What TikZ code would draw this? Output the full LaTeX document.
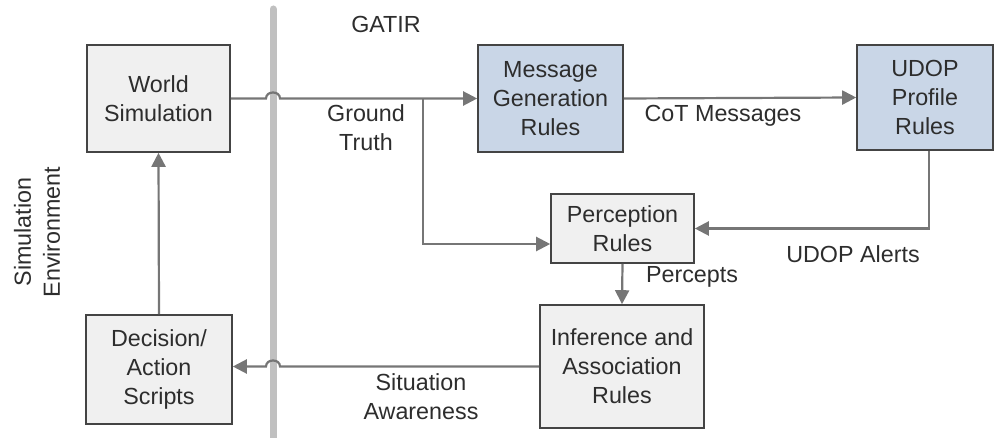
\documentclass[tikz,border=0pt]{standalone}
\usepackage{fontspec}
\setmainfont{Liberation Sans}
\usetikzlibrary{arrows.meta,positioning,calc}
\definecolor{boxgray}{RGB}{240,240,240}
\definecolor{boxblue}{RGB}{201,214,231}
\definecolor{edgegray}{RGB}{68,68,68}
\definecolor{linegray}{RGB}{118,118,118}
\definecolor{bargray}{RGB}{192,192,192}
\definecolor{txtgray}{RGB}{45,45,45}

\begin{document}
\begin{tikzpicture}[x=1pt, y=-1pt,
  font=\fontsize{23.3}{29}\selectfont, text=txtgray,
  block/.style={draw=edgegray, fill=boxgray, line width=1.6pt,
                align=center, inner sep=0pt},
  msgblock/.style={block, fill=boxblue},
  flow/.style={draw=linegray, line width=2.2pt,
               -{Triangle[length=14pt,width=14pt]}},
  lbl/.style={align=center}]
  \useasboundingbox (0,0) rectangle (994,438);

  % Boundary between simulation and GATIR
  \draw[bargray, line width=7pt, line cap=round] (273,9) -- (273,442);
  \node (gatir) at (386,24) {GATIR};
  \node[rotate=90, lbl] (simenv) at (37,232) {Simulation\\Environment};

  % Rule blocks
  \node[block, minimum width=143pt, minimum height=107pt] (world) at (158.5,98.5) {World\\Simulation};
  \node[msgblock, minimum width=145pt, minimum height=107pt] (msggen) at (550.5,98.5) {Message\\Generation\\Rules};
  \node[msgblock, minimum width=136pt, minimum height=105pt] (udop) at (925,97.5) {UDOP\\Profile\\Rules};
  \node[block, minimum width=143pt, minimum height=69pt] (percept) at (622.5,228.5) {Perception\\Rules};
  \node[block, minimum width=164pt, minimum height=123pt] (infer) at (622,366.5) {Inference and\\Association\\Rules};
  \node[block, minimum width=146pt, minimum height=109pt] (decide) at (159,369.5) {Decision/\\Action\\Scripts};

  % Hops over the boundary
  \coordinate (hopNl) at (266,98.5);
  \coordinate (hopNr) at (280,98.5);
  \coordinate (hopSl) at (266,366.5);
  \coordinate (hopSr) at (280,366.5);
  \coordinate (gtsplit) at (423,98.5);

  % Connectors
  \draw[flow] (world.east) -- (hopNl) .. controls (266,90.5) and (280,90.5) .. (hopNr) -- (msggen.west);
  \draw[flow] (msggen.east) -- (udop.west);
  \draw[flow] (gtsplit) |- ([yshift=-15.5pt]percept.west);
  \draw[flow] ([xshift=4pt]udop.south) |- (percept.east);
  \draw[flow] (percept.south) -- (infer.north);
  \draw[flow] (infer.west) -- (hopSr) .. controls (280,358.5) and (266,358.5) .. (hopSl) -- (decide.east |- infer.west);
  \draw[flow] (decide.north) -- (world.south);

  % Connector labels
  \node[lbl] (gtlbl) at (366,128) {Ground\\Truth};
  \node[lbl] (cotlbl) at (723,116) {CoT Messages};
  \node[lbl] (alertlbl) at (853,254) {UDOP Alerts};
  \node[lbl] (perclbl) at (692,277) {Percepts};
  \node[lbl] (salbl) at (421,397) {Situation\\Awareness};
\end{tikzpicture}
\end{document}
